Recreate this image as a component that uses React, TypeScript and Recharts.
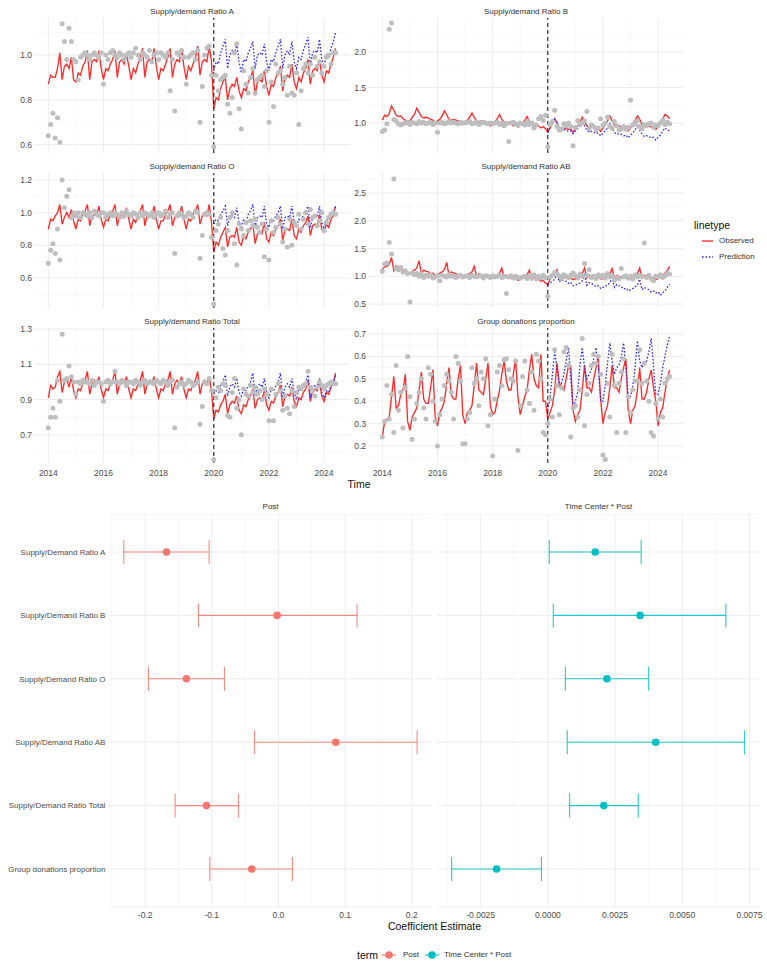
import React from 'react';
import {
  ComposedChart, ScatterChart, Scatter, Line, XAxis, YAxis, CartesianGrid, ReferenceLine, ErrorBar,
} from 'recharts';

const FONT = '"Liberation Sans", Arial, Helvetica, sans-serif';
const TICK = { fontSize: 8.5, fill: '#4d4d4d', fontFamily: FONT };

// monthly series, Jan 2014 .. Jun 2024 (126 months); predictions start Jan 2020
const START_YEAR = 2014;
const PRED_OFFSET = 72;
const majorYears = [2014, 2016, 2018, 2020, 2022, 2024];
const minorYears = [2015, 2017, 2019, 2021, 2023];

// ---- Supply/demand Ratio A
const obsA = [
  0.87, 0.91, 0.90, 0.90, 0.94, 1.01, 0.89, 0.95, 0.96, 0.94, 0.99, 0.89,
  0.88, 0.92, 0.91, 0.95, 0.97, 1.02, 0.89, 0.97, 0.98, 0.97, 1.02, 0.94,
  0.89, 0.94, 0.93, 0.96, 0.98, 1.02, 0.90, 0.97, 0.98, 0.96, 1.01, 0.95,
  0.89, 0.94, 0.92, 0.96, 0.99, 1.03, 0.90, 0.97, 0.98, 0.97, 1.03, 0.95,
  0.89, 0.94, 0.93, 0.96, 0.99, 1.03, 0.90, 0.96, 0.98, 0.97, 1.03, 0.95,
  0.89, 0.95, 0.93, 0.96, 0.99, 1.04, 0.91, 0.97, 0.98, 0.97, 1.04, 0.97,
  0.76, 0.81, 0.80, 0.85, 0.88, 0.90, 0.80, 0.85, 0.87, 0.86, 0.90, 0.84,
  0.81, 0.85, 0.84, 0.88, 0.90, 0.93, 0.82, 0.88, 0.89, 0.88, 0.93, 0.86,
  0.82, 0.87, 0.86, 0.90, 0.92, 0.95, 0.84, 0.90, 0.91, 0.90, 0.96, 0.88,
  0.85, 0.90, 0.88, 0.92, 0.94, 0.98, 0.87, 0.93, 0.94, 0.93, 0.98, 0.91,
  0.88, 0.93, 0.92, 0.96, 0.99, 1.03,
];
const predA = [
  0.93, 0.97, 0.96, 1.01, 1.04, 1.07, 0.94, 1.00, 1.02, 1.00, 1.05, 0.97,
  0.92, 0.98, 0.97, 1.01, 1.03, 1.06, 0.94, 1.00, 1.01, 1.00, 1.05, 0.97,
  0.93, 0.98, 0.97, 1.01, 1.04, 1.07, 0.94, 1.00, 1.02, 1.00, 1.06, 0.97,
  0.94, 0.99, 0.98, 1.02, 1.05, 1.08, 0.95, 1.01, 1.02, 1.01, 1.07, 0.98,
  0.95, 1.00, 0.99, 1.03, 1.06, 1.10,
];
const ptsA = [
  0.64, 0.69, 0.74, 0.63, 0.72, 0.61, 1.14, 1.06, 0.98, 1.12, 1.06, 0.98,
  0.97, 0.89, 0.99, 1.00, 1.01, 1.00, 0.98, 1.00, 1.01, 1.00, 0.99, 1.01,
  0.87, 1.00, 0.98, 1.01, 1.02, 1.00, 0.99, 1.01, 1.00, 0.98, 1.00, 1.01,
  0.99, 1.01, 1.03, 1.00, 0.98, 1.01, 1.00, 0.99, 1.02, 0.97, 1.00, 1.01,
  0.98, 1.01, 1.00, 0.99, 1.01, 0.84, 0.98, 0.75, 1.01, 1.00, 1.02, 0.99,
  0.87, 0.99, 1.00, 1.01, 0.98, 1.02, 0.70, 0.86, 1.00, 1.03, 1.04, 0.91,
  0.59, 0.91, 0.84, 0.89, 0.90, 0.91, 0.78, 0.74, 0.81, 1.01, 1.05, 0.76,
  0.67, 0.93, 0.87, 0.83, 0.90, 0.94, 0.83, 0.89, 0.90, 0.91, 0.86, 0.93,
  0.70, 0.88, 0.77, 0.96, 0.92, 0.93, 0.87, 0.90, 0.82, 0.95, 0.83, 0.82,
  0.92, 0.69, 0.84, 0.94, 0.96, 0.92, 0.96, 0.91, 0.99, 0.95, 0.97, 0.92,
  0.95, 0.99, 1.00, 0.96, 1.01, 1.01,
];

// ---- Supply/demand Ratio B
const obsB = [
  1.04, 1.11, 1.09, 1.13, 1.24, 1.18, 1.11, 1.09, 1.10, 1.06, 1.04, 1.01,
  1.03, 1.08, 1.12, 1.21, 1.15, 1.09, 1.07, 1.08, 1.07, 1.05, 1.04, 0.99,
  1.03, 1.05, 1.10, 1.17, 1.12, 1.05, 1.04, 1.05, 1.04, 1.03, 1.01, 0.98,
  1.02, 1.04, 1.08, 1.14, 1.08, 1.03, 1.02, 1.03, 1.02, 0.98, 1.00, 0.96,
  1.00, 1.02, 1.06, 1.12, 1.05, 1.01, 1.00, 1.01, 1.00, 0.96, 0.98, 0.94,
  0.98, 1.00, 1.04, 1.09, 1.02, 0.98, 0.97, 0.98, 0.96, 0.93, 0.95, 0.92,
  0.87, 0.93, 0.99, 1.06, 1.01, 0.93, 0.90, 0.93, 0.92, 0.91, 0.92, 0.86,
  0.92, 0.96, 1.01, 1.08, 1.02, 0.96, 0.93, 0.95, 0.94, 0.92, 0.93, 0.88,
  0.93, 0.97, 1.03, 1.10, 1.03, 0.97, 0.94, 0.96, 0.95, 0.93, 0.94, 0.89,
  0.93, 0.98, 1.04, 1.10, 1.05, 0.98, 0.95, 0.97, 0.96, 0.94, 0.96, 0.91,
  0.95, 0.99, 1.05, 1.12, 1.10, 1.06,
];
const predB = [
  0.87, 0.93, 0.99, 1.05, 1.00, 0.92, 0.89, 0.91, 0.90, 0.88, 0.89, 0.85,
  0.89, 0.92, 0.96, 1.02, 0.96, 0.90, 0.87, 0.88, 0.87, 0.85, 0.86, 0.82,
  0.86, 0.89, 0.93, 0.99, 0.93, 0.87, 0.84, 0.85, 0.84, 0.82, 0.83, 0.79,
  0.83, 0.86, 0.90, 0.97, 0.90, 0.84, 0.81, 0.82, 0.81, 0.79, 0.80, 0.76,
  0.80, 0.83, 0.88, 0.93, 0.90, 0.89,
];
const ptsB = [
  0.88, 0.90, 0.99, 2.32, 2.41, 1.05, 1.03, 0.99, 0.97, 0.99, 1.00, 1.01,
  0.98, 1.01, 1.00, 0.99, 1.02, 1.00, 1.01, 0.99, 1.00, 1.01, 0.98, 1.00,
  0.87, 1.00, 1.01, 0.99, 1.00, 1.02, 1.00, 1.01, 1.00, 0.99, 1.01, 1.00,
  1.00, 1.01, 1.02, 0.99, 1.00, 1.01, 0.98, 1.00, 1.01, 1.00, 0.99, 1.00,
  0.99, 1.00, 1.01, 0.98, 1.00, 0.96, 0.99, 0.74, 1.00, 1.01, 0.99, 0.97,
  1.00, 0.99, 0.97, 1.02, 0.98, 1.00, 0.93, 0.97, 1.06, 1.09, 1.04, 1.11,
  0.66, 0.98, 1.02, 1.18, 0.95, 0.90, 0.92, 0.99, 0.96, 1.00, 0.95, 0.68,
  0.94, 1.03, 0.98, 1.00, 1.03, 1.16, 0.92, 0.97, 0.95, 0.90, 0.93, 1.06,
  0.97, 1.00, 1.08, 0.95, 0.93, 1.02, 0.96, 0.90, 0.92, 0.95, 0.91, 0.94,
  1.32, 0.97, 1.00, 1.03, 0.95, 0.92, 0.98, 0.96, 0.99, 1.00, 0.94, 0.97,
  0.96, 1.00, 1.04, 0.98, 1.01, 0.99,
];

// ---- Supply/demand Ratio O
const obsO = [
  0.90, 0.96, 0.95, 0.98, 1.00, 1.05, 0.93, 0.97, 1.00, 0.97, 1.02, 0.95,
  0.90, 0.96, 0.95, 0.99, 1.01, 1.05, 0.92, 0.98, 0.99, 0.98, 1.04, 0.96,
  0.91, 0.96, 0.95, 0.99, 1.01, 1.05, 0.92, 0.98, 0.99, 0.97, 1.03, 0.96,
  0.90, 0.96, 0.94, 0.99, 1.01, 1.05, 0.92, 0.98, 0.99, 0.98, 1.04, 0.96,
  0.90, 0.95, 0.95, 0.99, 1.01, 1.05, 0.92, 0.97, 0.99, 0.98, 1.04, 0.96,
  0.90, 0.96, 0.95, 0.99, 1.01, 1.05, 0.93, 0.98, 0.99, 0.98, 1.05, 0.94,
  0.76, 0.82, 0.80, 0.85, 0.88, 0.91, 0.79, 0.85, 0.86, 0.85, 0.91, 0.82,
  0.80, 0.86, 0.84, 0.88, 0.90, 0.93, 0.81, 0.87, 0.88, 0.87, 0.94, 0.84,
  0.82, 0.88, 0.86, 0.90, 0.92, 0.96, 0.83, 0.89, 0.90, 0.89, 0.96, 0.86,
  0.84, 0.90, 0.88, 0.92, 0.94, 0.98, 0.86, 0.92, 0.93, 0.92, 0.99, 0.90,
  0.88, 0.93, 0.91, 0.96, 0.98, 1.04,
];
const predO = [
  0.93, 0.96, 0.95, 0.99, 1.01, 1.04, 0.92, 0.97, 0.98, 0.97, 1.03, 0.94,
  0.91, 0.96, 0.94, 0.99, 1.01, 1.05, 0.91, 0.97, 0.98, 0.97, 1.04, 0.93,
  0.91, 0.96, 0.95, 0.98, 1.00, 1.04, 0.90, 0.97, 0.98, 0.97, 1.04, 0.94,
  0.91, 0.96, 0.95, 0.99, 1.01, 1.04, 0.91, 0.97, 0.98, 0.97, 1.04, 0.94,
  0.90, 0.96, 0.95, 0.99, 1.00, 1.04,
];
const ptsO = [
  0.69, 0.77, 0.81, 0.75, 0.90, 0.71, 1.20, 1.03, 1.10, 1.14, 0.97, 1.00,
  0.98, 1.00, 0.97, 1.00, 0.99, 0.98, 1.00, 0.97, 1.01, 0.99, 0.98, 1.00,
  1.00, 0.97, 0.99, 1.00, 0.98, 1.00, 0.99, 0.97, 1.00, 0.98, 1.01, 0.99,
  0.98, 1.00, 0.99, 0.97, 1.00, 0.98, 1.00, 0.99, 0.98, 1.00, 0.97, 0.99,
  1.00, 0.98, 0.99, 1.01, 0.97, 0.99, 1.00, 0.75, 0.98, 1.00, 0.99, 0.97,
  0.98, 1.00, 0.99, 0.97, 1.01, 1.00, 0.72, 0.86, 0.99, 1.00, 0.99, 0.85,
  0.44, 0.89, 0.93, 0.97, 0.78, 0.74, 0.89, 0.97, 1.00, 0.81, 0.68, 0.93,
  0.90, 0.86, 0.94, 0.89, 0.95, 0.92, 0.96, 0.91, 0.88, 0.93, 0.73, 0.90,
  0.71, 0.95, 0.88, 0.91, 0.97, 0.93, 0.82, 0.90, 0.79, 0.96, 0.80, 0.94,
  0.92, 0.99, 0.90, 0.96, 1.00, 0.93, 1.02, 0.97, 0.98, 0.92, 0.95, 1.00,
  0.89, 0.94, 0.97, 0.99, 1.00, 0.99,
];

// ---- Supply/demand Ratio AB
const obsAB = [
  1.12, 1.17, 1.18, 1.22, 1.34, 1.10, 1.19, 1.17, 1.16, 1.11, 1.10, 1.06,
  1.06, 1.09, 1.11, 1.15, 1.28, 1.05, 1.11, 1.09, 1.08, 1.04, 1.06, 1.02,
  1.03, 1.06, 1.08, 1.12, 1.25, 1.02, 1.08, 1.06, 1.05, 1.01, 1.03, 0.99,
  1.00, 1.03, 1.05, 1.08, 1.18, 1.00, 1.05, 1.03, 1.02, 0.99, 1.00, 0.97,
  0.98, 1.00, 1.02, 1.06, 1.15, 0.97, 1.02, 1.00, 0.99, 0.95, 0.97, 0.93,
  0.94, 0.97, 0.99, 1.03, 1.11, 0.94, 0.98, 0.96, 0.95, 0.91, 0.93, 0.88,
  0.85, 0.95, 1.00, 1.05, 1.12, 0.96, 1.01, 0.98, 0.97, 0.95, 0.97, 0.94,
  0.96, 0.99, 1.01, 1.05, 1.15, 0.97, 1.02, 1.00, 0.99, 0.96, 0.98, 0.95,
  0.96, 0.99, 1.01, 1.05, 1.14, 0.97, 1.02, 1.00, 0.98, 0.96, 0.98, 0.94,
  0.96, 0.99, 1.01, 1.05, 1.15, 0.97, 1.02, 1.00, 0.98, 0.96, 0.98, 0.94,
  0.96, 0.99, 1.02, 1.06, 1.10, 1.18,
];
const predAB = [
  0.85, 0.88, 0.91, 0.95, 1.05, 0.90, 0.94, 0.92, 0.91, 0.87, 0.89, 0.83,
  0.84, 0.86, 0.88, 0.92, 1.02, 0.84, 0.89, 0.87, 0.85, 0.81, 0.83, 0.78,
  0.80, 0.82, 0.85, 0.88, 0.98, 0.80, 0.85, 0.83, 0.81, 0.77, 0.79, 0.74,
  0.76, 0.78, 0.81, 0.84, 0.95, 0.76, 0.80, 0.78, 0.76, 0.72, 0.74, 0.70,
  0.72, 0.66, 0.70, 0.74, 0.80, 0.86,
];
const ptsAB = [
  1.09, 1.22, 1.24, 1.61, 1.40, 2.75, 1.15, 1.12, 1.16, 1.08, 1.10, 1.05,
  0.54, 1.06, 1.03, 1.05, 1.00, 1.04, 0.98, 1.02, 1.00, 1.03, 0.97, 0.99,
  1.01, 0.92, 1.02, 1.00, 0.99, 1.03, 1.00, 1.01, 0.98, 1.00, 1.02, 0.99,
  1.00, 1.01, 0.98, 1.02, 1.00, 0.99, 1.01, 1.00, 0.97, 1.01, 1.00, 0.98,
  1.01, 0.99, 1.00, 1.02, 0.98, 1.00, 0.69, 0.99, 1.01, 0.97, 1.00, 0.98,
  0.97, 0.99, 1.00, 0.96, 1.01, 0.98, 1.03, 0.95, 1.00, 0.97, 1.02, 0.98,
  0.64, 0.99, 1.02, 1.07, 1.05, 1.01, 0.96, 1.03, 1.00, 0.98, 1.02, 1.06,
  1.01, 0.97, 1.04, 1.00, 1.23, 1.02, 1.12, 0.98, 1.00, 0.96, 1.03, 0.99,
  1.02, 0.97, 1.05, 0.99, 1.01, 0.93, 0.98, 0.96, 1.14, 0.99, 1.01, 0.97,
  1.00, 0.95, 1.03, 0.99, 1.01, 1.00, 1.60, 0.98, 1.02, 0.96, 0.92, 1.00,
  0.99, 1.03, 0.98, 1.01, 1.05, 1.04,
];

// ---- Supply/demand Ratio Total
const obsT = [
  0.91, 0.98, 0.96, 0.97, 1.03, 1.06, 0.94, 1.00, 1.02, 0.97, 1.03, 0.95,
  0.91, 0.96, 0.95, 0.99, 1.01, 1.06, 0.93, 0.99, 1.01, 0.99, 1.03, 0.96,
  0.91, 0.96, 0.95, 0.99, 1.01, 1.06, 0.93, 0.99, 1.01, 0.99, 1.03, 0.96,
  0.91, 0.96, 0.95, 0.99, 1.01, 1.06, 0.93, 0.99, 1.01, 0.99, 1.03, 0.96,
  0.91, 0.96, 0.95, 0.99, 1.01, 1.06, 0.93, 0.99, 1.01, 0.99, 1.03, 0.96,
  0.91, 0.96, 0.95, 0.99, 1.01, 1.06, 0.93, 0.99, 1.01, 0.99, 1.03, 0.95,
  0.79, 0.84, 0.83, 0.87, 0.89, 0.93, 0.82, 0.87, 0.89, 0.88, 0.92, 0.84,
  0.82, 0.87, 0.86, 0.90, 0.92, 0.96, 0.85, 0.90, 0.91, 0.90, 0.95, 0.87,
  0.84, 0.89, 0.88, 0.92, 0.94, 0.98, 0.86, 0.92, 0.93, 0.92, 0.97, 0.89,
  0.86, 0.91, 0.90, 0.94, 0.96, 1.01, 0.89, 0.95, 0.96, 0.95, 1.00, 0.92,
  0.89, 0.94, 0.93, 0.97, 0.99, 1.05,
];
const predT = [
  0.93, 0.95, 0.94, 0.98, 1.00, 1.04, 0.92, 0.97, 0.99, 0.97, 1.02, 0.94,
  0.92, 0.96, 0.95, 0.98, 1.00, 1.05, 0.92, 0.97, 0.99, 0.97, 1.02, 0.94,
  0.91, 0.96, 0.95, 0.98, 1.00, 1.05, 0.91, 0.97, 0.99, 0.97, 1.02, 0.94,
  0.90, 0.96, 0.95, 0.98, 1.00, 1.04, 0.91, 0.97, 0.98, 0.97, 1.02, 0.94,
  0.91, 0.95, 0.94, 0.98, 0.99, 1.04,
];
const ptsT = [
  0.74, 0.80, 0.85, 0.80, 1.01, 0.89, 1.27, 1.01, 1.02, 1.09, 1.03, 1.00,
  0.93, 1.00, 0.99, 1.01, 1.00, 1.00, 0.99, 1.01, 0.98, 1.00, 1.00, 0.99,
  0.89, 1.00, 1.01, 0.99, 1.00, 1.06, 1.00, 0.99, 1.01, 1.00, 0.98, 1.00,
  1.00, 0.99, 1.01, 1.00, 0.98, 1.00, 1.01, 0.99, 1.00, 1.00, 0.99, 1.01,
  1.00, 0.99, 1.01, 1.00, 0.98, 1.00, 1.01, 0.74, 0.97, 0.99, 1.00, 0.98,
  0.99, 1.01, 1.00, 0.98, 0.99, 1.00, 0.76, 0.86, 1.00, 0.99, 1.02, 0.95,
  0.56, 0.91, 0.97, 0.95, 0.99, 0.98, 0.81, 0.80, 0.94, 1.02, 0.85, 0.90,
  0.70, 0.96, 0.93, 0.92, 0.98, 0.94, 0.97, 0.93, 0.95, 0.90, 0.96, 0.93,
  0.78, 0.96, 0.78, 0.93, 0.99, 0.95, 0.84, 0.92, 0.85, 0.82, 0.95, 0.86,
  0.94, 0.97, 0.96, 0.98, 0.99, 1.06, 0.97, 0.95, 0.92, 0.97, 1.00, 0.98,
  0.96, 0.98, 0.99, 1.00, 0.99, 0.99,
];

// ---- Group donations proportion
const obsG = [
  0.24, 0.31, 0.32, 0.33, 0.42, 0.51, 0.37, 0.38, 0.43, 0.45, 0.52, 0.31,
  0.27, 0.33, 0.35, 0.37, 0.45, 0.53, 0.41, 0.39, 0.39, 0.46, 0.54, 0.33,
  0.29, 0.35, 0.37, 0.40, 0.48, 0.55, 0.43, 0.41, 0.41, 0.50, 0.56, 0.34,
  0.30, 0.35, 0.36, 0.38, 0.47, 0.57, 0.45, 0.44, 0.43, 0.50, 0.57, 0.38,
  0.34, 0.35, 0.40, 0.45, 0.52, 0.58, 0.49, 0.45, 0.45, 0.52, 0.59, 0.42,
  0.34, 0.38, 0.42, 0.45, 0.54, 0.61, 0.50, 0.47, 0.46, 0.61, 0.40, 0.40,
  0.32, 0.35, 0.38, 0.45, 0.57, 0.48, 0.47, 0.45, 0.50, 0.56, 0.56, 0.36,
  0.31, 0.34, 0.36, 0.45, 0.56, 0.46, 0.46, 0.44, 0.50, 0.55, 0.59, 0.41,
  0.30, 0.35, 0.38, 0.46, 0.56, 0.46, 0.46, 0.44, 0.50, 0.55, 0.59, 0.36,
  0.30, 0.36, 0.38, 0.45, 0.55, 0.41, 0.41, 0.44, 0.50, 0.54, 0.46, 0.40,
  0.29, 0.35, 0.37, 0.44, 0.50, 0.54,
];
const predG = [
  0.36, 0.42, 0.52, 0.62, 0.55, 0.47, 0.48, 0.52, 0.58, 0.64, 0.50, 0.37,
  0.40, 0.44, 0.56, 0.64, 0.55, 0.50, 0.52, 0.54, 0.59, 0.64, 0.55, 0.40,
  0.40, 0.47, 0.57, 0.66, 0.58, 0.52, 0.55, 0.56, 0.60, 0.66, 0.55, 0.42,
  0.42, 0.47, 0.55, 0.67, 0.58, 0.55, 0.57, 0.58, 0.62, 0.68, 0.56, 0.43,
  0.43, 0.48, 0.55, 0.60, 0.65, 0.69,
];
const ptsG = [
  0.24, 0.31, 0.47, 0.32, 0.43, 0.26, 0.56, 0.36, 0.44, 0.28, 0.46, 0.60,
  0.42, 0.23, 0.32, 0.39, 0.44, 0.50, 0.37, 0.32, 0.55, 0.52, 0.40, 0.31,
  0.20, 0.34, 0.41, 0.47, 0.52, 0.49, 0.44, 0.32, 0.60, 0.57, 0.49, 0.21,
  0.21, 0.32, 0.35, 0.55, 0.48, 0.50, 0.38, 0.53, 0.50, 0.59, 0.29, 0.34,
  0.155, 0.41, 0.53, 0.56, 0.47, 0.585, 0.59, 0.54, 0.50, 0.49, 0.58, 0.18,
  0.38, 0.51, 0.58, 0.45, 0.39, 0.53, 0.36, 0.61, 0.58, 0.50, 0.26, 0.25,
  0.30, 0.41, 0.33, 0.63, 0.47, 0.34, 0.46, 0.62, 0.64, 0.56, 0.24, 0.37,
  0.38, 0.33, 0.45, 0.68, 0.29, 0.43, 0.48, 0.56, 0.61, 0.57, 0.60, 0.52,
  0.16, 0.14, 0.48, 0.33, 0.61, 0.47, 0.26, 0.48, 0.53, 0.59, 0.26, 0.42,
  0.35, 0.45, 0.49, 0.49, 0.63, 0.48, 0.57, 0.49, 0.40, 0.26, 0.245, 0.39,
  0.32, 0.41, 0.33, 0.48, 0.50, 0.51,
];

// ---- coefficient estimates
const coefTerms = [
  'Supply/Demand Ratio A', 'Supply/Demand Ratio B', 'Supply/Demand Ratio O',
  'Supply/Demand Ratio AB', 'Supply/Demand Ratio Total', 'Group donations proportion',
];
const postEst = [-0.168, -0.002, -0.138, 0.086, -0.108, -0.040];
const postLo = [-0.232, -0.120, -0.195, -0.036, -0.155, -0.103];
const postHi = [-0.104, 0.118, -0.081, 0.208, -0.060, 0.021];
const tcEst = [0.00176, 0.00343, 0.0022, 0.00401, 0.00208, -0.00191];
const tcLo = [0.00005, 0.0002, 0.00065, 0.00072, 0.00081, -0.00358];
const tcHi = [0.00347, 0.00662, 0.00375, 0.00732, 0.00336, -0.00024];

const postTicks = [-0.2, -0.1, 0, 0.1, 0.2];
const postMinor = [-0.25, -0.15, -0.05, 0.05, 0.15];
const tcTicks = [-0.0025, 0, 0.0025, 0.005, 0.0075];
const tcMinor = [-0.00375, -0.00125, 0.00125, 0.00375, 0.00625];

const POST_COLOR = '#F8766D';
const TC_COLOR = '#00BFC4';
const OBS_COLOR = '#ff2a2a';
const PRED_COLOR = '#2b2bff';

const toSeries = (vals: number[], offset = 0) =>
  vals.map((v, i) => ({ t: START_YEAR + (i + offset) / 12, v }));

const panels = [
  { title: 'Supply/demand Ratio A', obs: obsA, pred: predA, pts: ptsA, left: 0, top: 18, domain: [0.5625, 1.1655], ticks: [0.6, 0.8, 1.0], minor: [0.7, 0.9, 1.1], showX: false },
  { title: 'Supply/demand Ratio B', obs: obsB, pred: predB, pts: ptsB, left: 334, top: 18, domain: [0.577, 2.479], ticks: [1.0, 1.5, 2.0], minor: [0.75, 1.25, 1.75, 2.25], showX: false },
  { title: 'Supply/demand Ratio O', obs: obsO, pred: predO, pts: ptsO, left: 0, top: 173, domain: [0.416, 1.243], ticks: [0.6, 0.8, 1.0, 1.2], minor: [0.5, 0.7, 0.9, 1.1], showX: false },
  { title: 'Supply/demand Ratio AB', obs: obsAB, pred: predAB, pts: ptsAB, left: 334, top: 173, domain: [0.43, 2.86], ticks: [0.5, 1.0, 1.5, 2.0, 2.5], minor: [0.75, 1.25, 1.75, 2.25, 2.75], showX: false },
  { title: 'Supply/demand Ratio Total', obs: obsT, pred: predT, pts: ptsT, left: 0, top: 328, domain: [0.54, 1.306], ticks: [0.7, 0.9, 1.1, 1.3], minor: [0.6, 0.8, 1.0, 1.2], showX: true },
  { title: 'Group donations proportion', obs: obsG, pred: predG, pts: ptsG, left: 334, top: 328, domain: [0.124, 0.727], ticks: [0.2, 0.3, 0.4, 0.5, 0.6, 0.7], minor: [0.15, 0.25, 0.35, 0.45, 0.55, 0.65], showX: true },
];

const Txt = ({ x, y, size = 8, color = '#333', anchor = 'middle', children }: any) => {
  const tx = anchor === 'middle' ? '-50%' : anchor === 'end' ? '-100%' : '0';
  return (
    <div style={{ position: 'absolute', left: x, top: y, transform: `translate(${tx}, -50%)`, fontSize: size, lineHeight: 1, color, whiteSpace: 'nowrap' }}>
      {children}
    </div>
  );
};

// category tick on one line (no wrapping)
const TermTick = ({ x, y, payload }: any) => (
  <text x={x} y={y} dy="0.35em" textAnchor="end" fontSize={8} fill="#4d4d4d" fontFamily={FONT}>
    {payload.value}
  </text>
);

const PANEL_W = 350;
const PLOT_H = 135;
const PAD = 6; // room for tick labels at the plot edges

function TimePanel({ p }: any) {
  const h = PAD + PLOT_H + (p.showX ? 20 : PAD);
  return (
    <div style={{ position: 'absolute', left: p.left, top: p.top - PAD, width: PANEL_W + PAD, height: h }}>
      <ComposedChart width={PANEL_W + PAD} height={h} margin={{ top: PAD, right: PAD, bottom: p.showX ? 0 : PAD, left: 0 }}>
        <CartesianGrid stroke="#f4f4f4" strokeWidth={0.6} horizontalValues={p.minor} verticalValues={minorYears} />
        <CartesianGrid stroke="#ebebeb" strokeWidth={0.9} horizontalValues={p.ticks} verticalValues={majorYears} />
        <XAxis
          type="number" dataKey="t" domain={[2013.48, 2024.94]} ticks={majorYears} interval={0}
          allowDataOverflow hide={!p.showX} height={20} axisLine={false} tickLine={false}
          tickSize={0} tickMargin={7} tick={TICK}
        />
        <YAxis
          type="number" dataKey="v" domain={p.domain} ticks={p.ticks} interval={0} allowDataOverflow
          width={34} axisLine={false} tickLine={false} tickSize={0} tickMargin={2}
          tickFormatter={(v: number) => v.toFixed(1)} tick={TICK}
        />
        <Scatter
          data={toSeries(p.pts)} isAnimationActive={false}
          shape={(s: any) => <circle cx={s.cx} cy={s.cy} r={2.5} fill="#bebebe" />}
        />
        <Line data={toSeries(p.obs)} dataKey="v" stroke={OBS_COLOR} strokeWidth={1.35} dot={false} isAnimationActive={false} />
        <Line data={toSeries(p.pred, PRED_OFFSET)} dataKey="v" stroke={PRED_COLOR} strokeWidth={1.3} strokeDasharray="1.6 1.8" dot={false} isAnimationActive={false} />
        <ReferenceLine x={2020} stroke="#222" strokeWidth={1.1} strokeDasharray="4 3" />
      </ComposedChart>
    </div>
  );
}

const COEF_TOP = 514;
const COEF_PLOT_H = 393;
const COEF_RIGHT_PAD = 14;

function CoefPanel({ left, plotW, yW, est, lo, hi, color, domain, ticks, minor, fmt, showY }: any) {
  const data = coefTerms.map((term, i) => ({ term, est: est[i], err: [est[i] - lo[i], hi[i] - est[i]] }));
  const w = yW + plotW + COEF_RIGHT_PAD;
  return (
    <div style={{ position: 'absolute', left: left - yW, top: COEF_TOP }}>
      <ScatterChart width={w} height={COEF_PLOT_H + 16} margin={{ top: 0, right: COEF_RIGHT_PAD, bottom: 0, left: 0 }}>
        <CartesianGrid stroke="#f4f4f4" strokeWidth={0.6} horizontal={false} verticalValues={minor} />
        <CartesianGrid stroke="#ebebeb" strokeWidth={0.9} verticalValues={ticks} />
        <XAxis
          type="number" dataKey="est" domain={domain} ticks={ticks} interval={0} allowDataOverflow
          height={16} axisLine={false} tickLine={false} tickSize={0} tickMargin={5}
          tickFormatter={fmt} tick={TICK}
        />
        <YAxis
          type="category" dataKey="term" reversed hide={!showY} width={yW}
          padding={{ top: 6.3, bottom: 6.3 }} interval={0} axisLine={false} tickLine={false}
          tickSize={0} tickMargin={4} tick={<TermTick />}
        />
        <Scatter
          data={data} isAnimationActive={false}
          shape={(s: any) => <circle cx={s.cx} cy={s.cy} r={3.8} fill={color} />}
        >
          <ErrorBar dataKey="err" direction="x" width={12} stroke={color} strokeWidth={1.1} strokeOpacity={0.85} />
        </Scatter>
      </ScatterChart>
    </div>
  );
}

export default function App() {
  return (
    <div style={{ position: 'absolute', left: 0, top: 0, width: 767, height: 965, background: '#fff', fontFamily: FONT, overflow: 'hidden' }}>
      {panels.map((p) => (
        <React.Fragment key={p.title}>
          <Txt x={p.left + 34 + 158} y={p.top - 6} size={8} color="#333">{p.title}</Txt>
          <TimePanel p={p} />
        </React.Fragment>
      ))}
      <Txt x={359} y={484} size={10.5} color="#111">Time</Txt>

      {/* linetype legend */}
      <Txt x={694} y={225} size={10.5} color="#111" anchor="start">linetype</Txt>
      <svg style={{ position: 'absolute', left: 700, top: 234 }} width={16} height={30}>
        <line x1={2} x2={13} y1={7} y2={7} stroke={OBS_COLOR} strokeWidth={1.35} />
        <line x1={2} x2={13} y1={23} y2={23} stroke={PRED_COLOR} strokeWidth={1.3} strokeDasharray="1.6 1.8" />
      </svg>
      <Txt x={719} y={241} size={8} color="#333" anchor="start">Observed</Txt>
      <Txt x={719} y={257} size={8} color="#333" anchor="start">Prediction</Txt>

      {/* coefficient plot */}
      <Txt x={270.6} y={507} size={8} color="#333">Post</Txt>
      <Txt x={598.5} y={507} size={8} color="#333">Time Center * Post</Txt>
      <CoefPanel
        left={109.4} plotW={322.5} yW={109.4} est={postEst} lo={postLo} hi={postHi} color={POST_COLOR}
        domain={[-0.2536, 0.2302]} ticks={postTicks} minor={postMinor}
        fmt={(v: number) => v.toFixed(1)} showY
      />
      <CoefPanel
        left={437.4} plotW={322.3} yW={0} est={tcEst} lo={tcLo} hi={tcHi} color={TC_COLOR}
        domain={[-0.004125, 0.007865]} ticks={tcTicks} minor={tcMinor}
        fmt={(v: number) => v.toFixed(4)} showY={false}
      />
      <Txt x={434.5} y={926} size={10.5} color="#111">Coefficient Estimate</Txt>

      {/* term legend */}
      <Txt x={357} y={955} size={10.5} color="#111" anchor="start">term</Txt>
      <svg style={{ position: 'absolute', left: 380, top: 948 }} width={64} height={14}>
        <line x1={2} x2={16} y1={7} y2={7} stroke={POST_COLOR} strokeWidth={1.1} />
        <circle cx={9} cy={7} r={3.8} fill={POST_COLOR} />
        <line x1={45} x2={59} y1={7} y2={7} stroke={TC_COLOR} strokeWidth={1.1} />
        <circle cx={52} cy={7} r={3.8} fill={TC_COLOR} />
      </svg>
      <Txt x={403} y={955} size={8} color="#333" anchor="start">Post</Txt>
      <Txt x={444} y={955} size={8} color="#333" anchor="start">Time Center * Post</Txt>
    </div>
  );
}
